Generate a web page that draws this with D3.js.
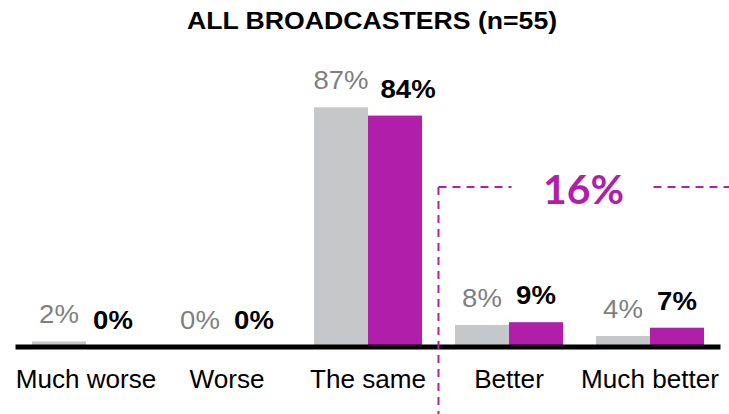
<!DOCTYPE html>
<html>
<head>
<meta charset="utf-8">
<script src="https://cdn.jsdelivr.net/npm/d3@7"></script>
<style>
  body { margin: 0; background: #fff; }
  svg { display: block; font-family: Arial, "Liberation Sans", sans-serif; }
</style>
</head>
<body>
<div id="chart"></div>
<script>
// answers per category, previous wave (grey) vs this wave (magenta)
const categories = ["Much worse", "Worse", "The same", "Better", "Much better"];
const previous = [2, 0, 87, 8, 4];
const current = [0, 0, 84, 9, 7];
const title = "ALL BROADCASTERS (n=55)";
// the two categories summed in the callout
const highlight = ["Better", "Much better"];

const width = 729, height = 414;
const baseY = 347;

const svg = d3.select("#chart").append("svg")
    .attr("width", width)
    .attr("height", height);

const x = d3.scaleBand()
    .domain(categories)
    .range([15.5, 720.5])
    .paddingInner(0.234)
    .paddingOuter(0.117);

const sub = d3.scaleBand()
    .domain(["previous", "current"])
    .range([0, x.bandwidth()]);

const y = d3.scaleLinear()
    .domain([0, 100])
    .range([baseY, baseY - 275.5]);

const rows = categories.map((c, i) => ({ cat: c, previous: previous[i], current: current[i] }));

// text is a touch wider than the stock font, stretch it sideways
function place(sel, fx, fy, sx) {
    return sel.attr("transform", (d, i) => `translate(${fx(d, i)},${fy(d, i)}) scale(${sx},1)`);
}

place(svg.append("text"), () => 372, () => 29, 1.11)
    .attr("text-anchor", "middle")
    .attr("font-size", 24)
    .attr("font-weight", "bold")
    .text(title);

// bars
const groups = svg.selectAll("g.cat")
    .data(rows)
    .join("g")
    .attr("class", "cat")
    .attr("transform", d => `translate(${x(d.cat)},0)`);

groups.append("rect")
    .attr("x", sub("previous"))
    .attr("width", sub.bandwidth())
    .attr("y", d => y(d.previous))
    .attr("height", d => baseY - y(d.previous))
    .attr("fill", "#c6c7c9");

groups.append("rect")
    .attr("x", sub("current"))
    .attr("width", sub.bandwidth())
    .attr("y", d => y(d.current))
    .attr("height", d => baseY - y(d.current))
    .attr("fill", "#b11ea9");

// value labels
const labelScale = 1.08;
const prevX = sub("previous") + sub.bandwidth() / 2;
const curX = sub("current") + sub.bandwidth() / 2;

const prevLabels = place(groups.append("text"), () => prevX, d => y(d.previous) - 18, labelScale)
    .attr("text-anchor", "middle")
    .attr("font-size", 25.5)
    .attr("fill", "#7f7f7f")
    .text(d => d.previous + "%");

const curLabels = place(groups.append("text"), () => curX, d => y(d.current) - 18, labelScale)
    .attr("text-anchor", "middle")
    .attr("font-size", 25.5)
    .attr("font-weight", "bold")
    .attr("fill", "#000")
    .text(d => d.current + "%");

// push the bold label right when it crowds the grey one
curLabels.each(function(d, i) {
    const pw = prevLabels.nodes()[i].getComputedTextLength() * labelScale;
    const cw = this.getComputedTextLength() * labelScale;
    const space = (curX - cw / 2) - (prevX + pw / 2);
    if (space < 12) {
        place(d3.select(this), () => curX + 12 - space, () => y(d.current) - 18, labelScale);
    }
});

// baseline
svg.append("line")
    .attr("x1", x.range()[0])
    .attr("x2", x.range()[1])
    .attr("y1", baseY)
    .attr("y2", baseY)
    .attr("stroke", "#000")
    .attr("stroke-width", 5);

// category labels
place(svg.selectAll("text.cat-label")
    .data(categories)
    .join("text")
    .attr("class", "cat-label"), d => x(d) + x.bandwidth() / 2, () => 388, 1.045)
    .attr("text-anchor", "middle")
    .attr("font-size", 25)
    .attr("fill", "#000")
    .text(d => d);

// dashed callout around the positive answers
const gap = x.step() * x.paddingInner() / 2;
const bx = x(highlight[0]) - gap;
const by = 187;
const total = d3.sum(highlight, c => current[categories.indexOf(c)]);
const tx = (x(highlight[0]) + x(highlight[1]) + x.bandwidth()) / 2 + 4;
const dash = { stroke: "#b11ea9", "stroke-width": 2, "stroke-dasharray": "8,6" };

const callout = svg.append("g");
callout.append("line")
    .attr("x1", bx).attr("x2", bx)
    .attr("y1", by).attr("y2", height);
callout.append("line")
    .attr("x1", bx).attr("x2", tx - 72)
    .attr("y1", by).attr("y2", by);
callout.append("line")
    .attr("x1", tx + 70).attr("x2", width)
    .attr("y1", by).attr("y2", by);
callout.selectAll("line").each(function() {
    const l = d3.select(this);
    Object.entries(dash).forEach(([k, v]) => l.attr(k, v));
});

callout.append("text")
    .attr("x", tx)
    .attr("y", 204)
    .attr("text-anchor", "middle")
    .attr("font-family", "Lato, 'Open Sans', sans-serif")
    .attr("font-weight", "bold")
    .attr("font-size", 41)
    .attr("fill", "#b11ea9")
    .text(total + "%");
</script>
</body>
</html>
